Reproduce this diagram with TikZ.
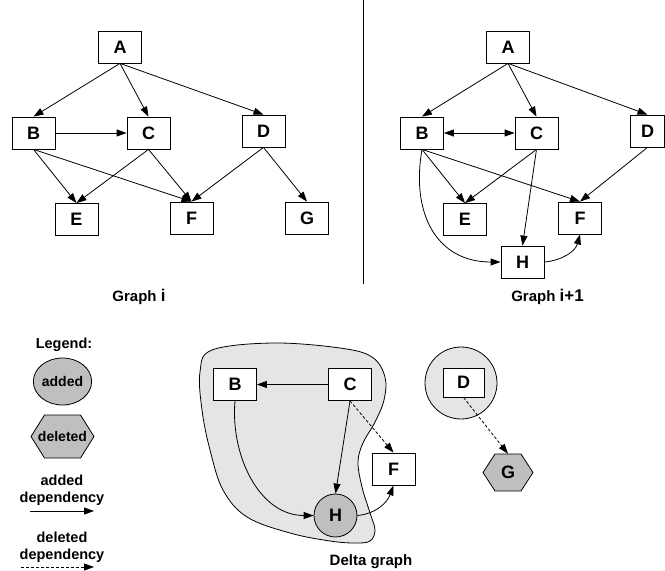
\documentclass[tikz,border=0pt]{standalone}
\usepackage{fontspec}
\setmainfont{Liberation Sans}
\usetikzlibrary{shapes.geometric,arrows.meta,calc}
\begin{document}
\begin{tikzpicture}[x=1pt,y=-1pt,
  box/.style={draw, line width=0.8pt, fill=white, minimum width=43pt, minimum height=32pt, inner sep=0pt, font=\fontsize{18}{18}\selectfont\bfseries},
  lbl/.style={font=\fontsize{14.5}{17}\selectfont\bfseries, inner sep=0pt, anchor=base},
  edge/.style={line width=0.8pt, -{Triangle[length=10pt,width=7pt]}},
  deledge/.style={edge, dash pattern=on 3pt off 2pt},
  addfill/.style={fill=gray!50, draw, line width=0.8pt},
  groupfill/.style={fill=gray!20, draw, line width=0.8pt}
]
\useasboundingbox (0,0) rectangle (665,571);

% separator
\draw[line width=0.8pt] (363,0) -- (363,284);

% ---------------- Graph i ----------------
\node[box] (A1) at (120,47) {A};
\node[box] (B1) at (33.5,133) {B};
\node[box] (C1) at (148.5,133) {C};
\node[box] (D1) at (263.5,131) {D};
\node[box] (E1) at (76.5,219.5) {E};
\node[box] (F1) at (191.5,218) {F};
\node[box] (G1) at (307,218) {G};
\draw[edge] (A1.south) -- (B1.north);
\draw[edge] (A1.south) -- (C1.north);
\draw[edge] (A1.south) -- (D1.north);
\draw[edge] (B1.east) -- (C1.west);
\draw[edge] (B1.south) -- (E1.north);
\draw[edge] (B1.south) -- (F1.north);
\draw[edge] (C1.south) -- (E1.north);
\draw[edge] (C1.south) -- (F1.north);
\draw[edge] (D1.south) -- (F1.north);
\draw[edge] (D1.south) -- (G1.north);
\node[lbl] (cap1) at (139,301) {\fontsize{15}{17}\selectfont Graph {\fontsize{17}{17}\selectfont i}};

% ---------------- Graph i+1 ----------------
\node[box] (A2) at (508,47) {A};
\node[box] (B2) at (422,133) {B};
\node[box] (C2) at (536.5,133) {C};
\node[box, minimum width=34pt] (D2) at (647.5,131) {D};
\node[box] (E2) at (465,219.5) {E};
\node[box] (F2) at (580,218) {F};
\node[box] (H2) at (522.5,262) {H};
\draw[edge] (A2.south) -- (B2.north);
\draw[edge] (A2.south) -- (C2.north);
\draw[edge] (A2.south) -- (D2.north);
\draw[edge, {Triangle[length=10pt,width=7pt]}-{Triangle[length=10pt,width=7pt]}] (B2.east) -- (C2.west);
\draw[edge] (B2.south) -- (E2.north);
\draw[edge] (B2.south) -- (F2.north);
\draw[edge] (C2.south) -- (E2.north);
\draw[edge] (C2.south) -- (H2.north);
\draw[edge] (D2.south) -- (F2.north);
\draw[edge] (B2.south) to[out=-100, in=180, looseness=1.2] (H2.west);
\draw[edge] (H2.east) to[out=5, in=-105] (F2.south);
\node[lbl] (cap2) at (547.5,301) {\fontsize{15}{17}\selectfont Graph {\fontsize{17}{17}\selectfont i+1}};

% ---------------- Legend ----------------
\node[lbl] (leg) at (64,348.5) {Legend:};
\node[ellipse, addfill, minimum width=53pt, minimum height=47pt, inner sep=0pt, font=\fontsize{14}{17}\selectfont\bfseries] (ladd) at (62.5,381.5) {added};
\draw[addfill] (31,436.5) -- (44.5,415) -- (80.5,415) -- (94,436.5) -- (80.5,458) -- (44.5,458) -- cycle;
\node[inner sep=0pt, font=\fontsize{14}{17}\selectfont\bfseries] (ldel) at (62.5,436.5) {deleted};
\node[lbl] (lt1) at (62,485.5) {added};
\node[lbl] (lt2) at (62,502.5) {dependency};
\coordinate (la1) at (30,511);
\coordinate (la2) at (94,511);
\draw[edge] (la1) -- (la2);
\node[lbl] (lt3) at (62,542.5) {deleted};
\node[lbl] (lt4) at (62,559.5) {dependency};
\coordinate (ld1) at (21,567);
\coordinate (ld2) at (94,567);
\draw[deledge] (ld1) -- (ld2);

% ---------------- Delta graph ----------------
\draw[groupfill] plot[smooth cycle, tension=0.6] coordinates {(200,372) (212,350) (273,343) (340,348) (372,357) (385,377) (384,400) (375,422) (363,443) (358,462) (362,487) (370,513) (375,530) (370,541) (355,543) (330,541) (290,533) (247,517) (223,490) (210,450) (202,410)};
\node[box] (Bd) at (235,384.5) {B};
\node[box] (Cd) at (350,384.5) {C};
\node[box] (Fd) at (393.5,469) {F};
\node[circle, addfill, minimum size=43pt, inner sep=0pt, font=\fontsize{18}{18}\selectfont\bfseries] (Hd) at (335.5,515.5) {H};
\draw[edge] (Cd.west) -- (Bd.east);
\draw[edge] (Cd.south) -- (Hd.north);
\draw[deledge] (Cd.south) -- (Fd.north);
\draw[edge] (Bd.south) to[out=-95, in=180] (Hd.west);
\draw[edge] (Hd.east) to[out=5, in=-110] (Fd.south);

\node[circle, groupfill, minimum size=72pt, inner sep=0pt] (Dc) at (461,383) {};
\node[box, minimum width=41pt, minimum height=29pt] (Dd) at (463.5,382.5) {D};
\draw[addfill] (483,472.5) -- (495,454) -- (521,454) -- (533,472.5) -- (521,491) -- (495,491) -- cycle;
\node[inner sep=0pt, minimum width=50pt, minimum height=37pt, font=\fontsize{18}{18}\selectfont\bfseries] (Gd) at (508,472.5) {G};
\draw[deledge] (Dd.south) -- (Gd.north);

\node[lbl, font=\fontsize{15}{17}\selectfont\bfseries] (cap3) at (371,565.7) {Delta graph};
\end{tikzpicture}
\end{document}
